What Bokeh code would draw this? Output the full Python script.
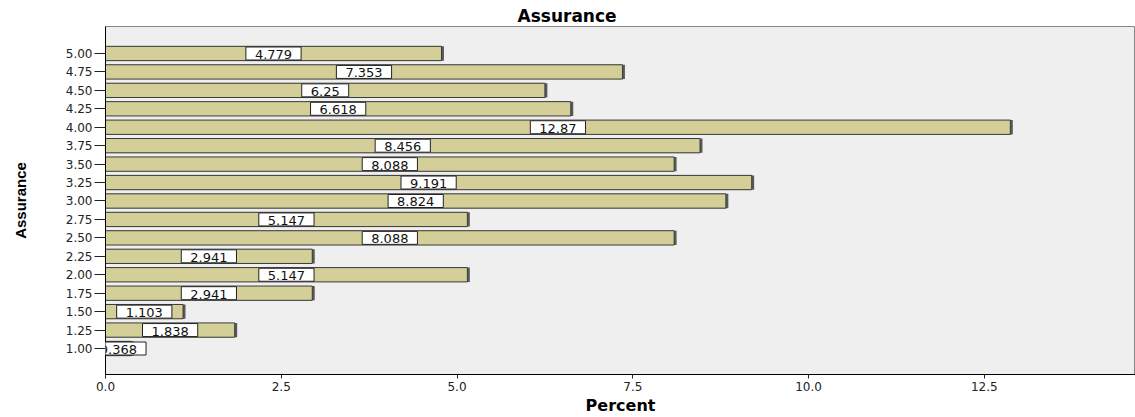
from bokeh.plotting import figure
from bokeh.models import ColumnDataSource, Label, FixedTicker, NumeralTickFormatter, Range1d
from bokeh.embed import file_html
from bokeh.resources import INLINE

# Data
categories = [1.00, 1.25, 1.50, 1.75, 2.00, 2.25, 2.50, 2.75, 3.00,
              3.25, 3.50, 3.75, 4.00, 4.25, 4.50, 4.75, 5.00]
percents = [0.368, 1.838, 1.103, 2.941, 5.147, 2.941, 8.088, 5.147, 8.824,
            9.191, 8.088, 8.456, 12.87, 6.618, 6.25, 7.353, 4.779]
value_labels = ["0.368", "1.838", "1.103", "2.941", "5.147", "2.941", "8.088", "5.147", "8.824",
                "9.191", "8.088", "8.456", "12.87", "6.618", "6.25", "7.353", "4.779"]
x_ticks = [0.0, 2.5, 5.0, 7.5, 10.0, 12.5]

src = ColumnDataSource(dict(
    y=categories,
    pct=percents,
    shadow=[v + 0.035 for v in percents],
))

p = figure(width=1135, height=417, output_backend="svg", toolbar_location=None,
           x_range=Range1d(0, 14.65), y_range=Range1d(0.6475, 5.366),
           title="Assurance")

p.min_border_left = 105
p.min_border_right = 0
p.min_border_top = 26
p.min_border_bottom = 43

p.background_fill_color = "#efefef"
p.border_fill_color = "white"
p.outline_line_color = "#888888"
p.xgrid.visible = False
p.ygrid.visible = False

p.title.text_font = "DejaVu Sans"
p.title.text_font_size = "17px"
p.title.text_font_style = "bold"
p.title.text_color = "black"
p.title.align = "left"
p.title.offset = 412
p.title.standoff = 2

# shadow and bars
p.hbar(y="y", left=0, right="shadow", height=0.194, source=src,
       fill_color="#5a5a5a", line_color=None)
p.hbar(y="y", left=0, right="pct", height=0.194, source=src,
       fill_color="#d4cf98", line_color="#3a3a3a", line_width=1)

for cat, val, txt in zip(categories, percents, value_labels):
    p.add_layout(Label(x=val / 2, y=cat, text=txt, level="overlay",
                       text_align="center", text_baseline="middle",
                       text_font="DejaVu Sans", text_font_size="13px", text_color="#111111",
                       background_fill_color="white", border_line_color="#222222",
                       border_line_width=1,
                       padding=dict(left=9, right=9, top=3, bottom=1)))

# axes
p.xaxis.ticker = FixedTicker(ticks=x_ticks)
p.xaxis.formatter = NumeralTickFormatter(format="0.0")
p.yaxis.ticker = FixedTicker(ticks=categories)
p.yaxis.formatter = NumeralTickFormatter(format="0.00")
p.xaxis.minor_tick_line_color = None
p.yaxis.minor_tick_line_color = None
p.xaxis.major_tick_in = 0
p.xaxis.major_tick_out = 4
p.yaxis.major_tick_in = 0
p.yaxis.major_tick_out = 11
p.xaxis.axis_line_color = "black"
p.yaxis.axis_line_color = "black"
p.xaxis.major_tick_line_color = "#222222"
p.yaxis.major_tick_line_color = "#222222"
for ax in (p.xaxis, p.yaxis):
    ax.major_label_text_font = "DejaVu Sans"
    ax.major_label_text_font_size = "12px"
    ax.major_label_text_color = "#222222"
p.xaxis.major_label_standoff = 3
p.yaxis.major_label_standoff = 2

p.xaxis.axis_label = "Percent"
p.xaxis.axis_label_text_font = "DejaVu Sans"
p.xaxis.axis_label_text_font_size = "16px"
p.xaxis.axis_label_text_font_style = "bold"
p.xaxis.axis_label_text_color = "black"
p.xaxis.axis_label_standoff = 2

p.yaxis.axis_label = "Assurance"
p.yaxis.axis_label_text_font = "Liberation Sans"
p.yaxis.axis_label_text_font_size = "15px"
p.yaxis.axis_label_text_font_style = "bold"
p.yaxis.axis_label_text_color = "black"
p.yaxis.axis_label_standoff = 34

open("out.html", "w").write(file_html(p, INLINE))
